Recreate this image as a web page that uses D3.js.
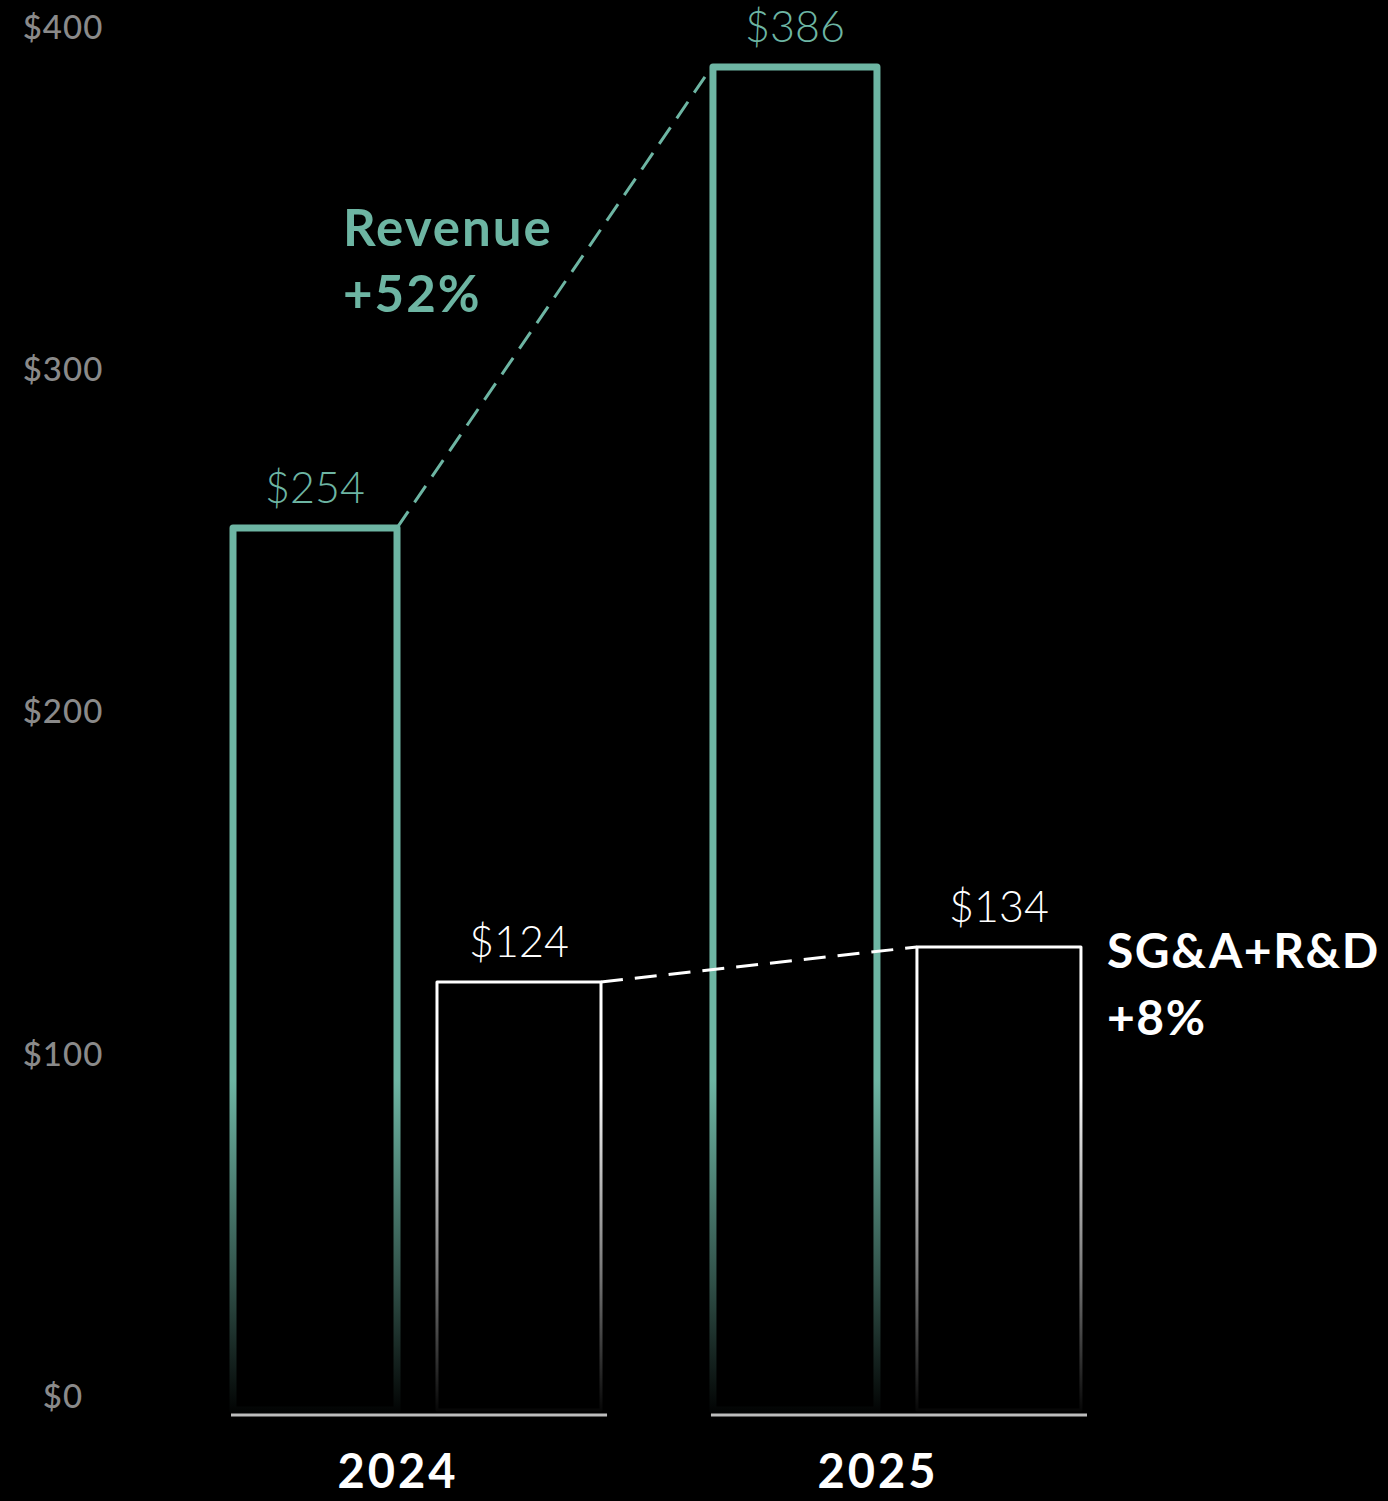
<!DOCTYPE html>
<html>
<head>
<meta charset="utf-8">
<script src="https://cdn.jsdelivr.net/npm/d3@7"></script>
<style>
  html, body { margin: 0; padding: 0; background: #000; }
  svg { display: block; }
  text { font-family: Lato, "Open Sans", sans-serif; }
</style>
</head>
<body>
<div id="chart"></div>
<script>
// data
var years = ["2024", "2025"];
var series = ["Revenue", "SG&A+R&D"];
var revenue = [254, 386];
var sgaRd = [124, 134];
var yTicks = [0, 100, 200, 300, 400];
var growthLabels = ["+52%", "+8%"];

const w = 1388;
const h = 1501;
const teal = "#6db5a3";
const white = "#ffffff";

const svg = d3.select("#chart").append("svg")
  .attr("width", w)
  .attr("height", h)
  .style("background", "#000");

// x scales: one band per year, one inner band per series
const x0 = d3.scaleBand().domain(years).range([233, 1083]).paddingInner(0.229).paddingOuter(0);
const x1 = d3.scaleBand().domain(series).range([0, 368]).paddingInner(0.196).paddingOuter(0);

// y scale for the bars, and one for the tick labels (they sit a bit above the baseline)
const y = d3.scaleLinear().domain([0, 400]).range([1415, 18]);
const yTick = d3.scaleLinear().domain([0, 400]).range([1396, 27]);

// gradients that fade the bar outlines at the bottom
const defs = svg.append("defs");
[["fadeTeal", teal], ["fadeWhite", white]].forEach(function(g) {
  const lg = defs.append("linearGradient")
    .attr("id", g[0])
    .attr("gradientUnits", "userSpaceOnUse")
    .attr("x1", 0).attr("x2", 0)
    .attr("y1", 1080).attr("y2", 1412);
  lg.append("stop").attr("offset", 0).attr("stop-color", g[1]).attr("stop-opacity", 1);
  lg.append("stop").attr("offset", 0.6).attr("stop-color", g[1]).attr("stop-opacity", 0.45);
  lg.append("stop").attr("offset", 1).attr("stop-color", g[1]).attr("stop-opacity", 0.02);
});

// y tick labels
svg.append("g").selectAll("text")
  .data(yTicks)
  .enter()
  .append("text")
  .attr("x", 63)
  .attr("y", d => yTick(d))
  .attr("dy", "0.36em")
  .attr("text-anchor", "middle")
  .attr("fill", "#8a8a8a")
  .attr("font-size", 33)
  .attr("font-weight", 500)
  .attr("letter-spacing", 1)
  .text(d => "$" + d);

// bars
var barData = [];
years.forEach(function(yr, i) {
  barData.push({year: yr, s: series[0], v: revenue[i], color: teal, grad: "fadeTeal", sw: 7});
  barData.push({year: yr, s: series[1], v: sgaRd[i], color: white, grad: "fadeWhite", sw: 3});
});

svg.append("g").selectAll("rect")
  .data(barData)
  .enter()
  .append("rect")
  .attr("x", d => x0(d.year) + x1(d.s))
  .attr("width", x1.bandwidth())
  .attr("y", d => y(d.v))
  .attr("height", d => y(0) - 5 - y(d.v))
  .attr("fill", "none")
  .attr("stroke", d => "url(#" + d.grad + ")")
  .attr("stroke-width", d => d.sw)
  .attr("stroke-linejoin", "round");

// baselines under each year group
svg.append("g").selectAll("line")
  .data(years)
  .enter()
  .append("line")
  .attr("x1", d => x0(d) - 2)
  .attr("x2", d => x0(d) + x0.bandwidth() + 4)
  .attr("y1", y(0)).attr("y2", y(0))
  .attr("stroke", "#bdbdbd")
  .attr("stroke-width", 3);

// value labels
svg.append("g").selectAll("text")
  .data(barData)
  .enter()
  .append("text")
  .attr("x", d => x0(d.year) + x1(d.s) + x1.bandwidth() / 2)
  .attr("y", d => y(d.v) - 25)
  .attr("text-anchor", "middle")
  .attr("fill", d => d.color)
  .attr("font-size", 43)
  .attr("font-weight", 300)
  .text(d => "$" + d.v);

// dashed connectors between years
const revLine = [
  [x0(years[0]) + x1(series[0]) + x1.bandwidth(), y(revenue[0])],
  [x0(years[1]) + x1(series[0]) - 8, y(revenue[1]) + 10]
];
const sgaLine = [
  [x0(years[0]) + x1(series[1]) + x1.bandwidth(), y(sgaRd[0])],
  [x0(years[1]) + x1(series[1]), y(sgaRd[1])]
];
svg.append("path")
  .attr("d", d3.line()(revLine))
  .attr("stroke", teal)
  .attr("stroke-width", 3)
  .attr("stroke-dasharray", "20,11")
  .attr("fill", "none");
svg.append("path")
  .attr("d", d3.line()(sgaLine))
  .attr("stroke", white)
  .attr("stroke-width", 3)
  .attr("stroke-dasharray", "22,12")
  .attr("fill", "none");

// growth annotations
const revNote = svg.append("text")
  .attr("x", 343).attr("y", 246)
  .attr("fill", teal)
  .attr("font-size", 51)
  .attr("font-weight", 700)
  .attr("letter-spacing", 2);
revNote.append("tspan").attr("x", 343).text(series[0]);
revNote.append("tspan").attr("x", 343).attr("dy", 66).text(growthLabels[0]);

const sgaNote = svg.append("text")
  .attr("x", 1107).attr("y", 968)
  .attr("fill", white)
  .attr("font-size", 48)
  .attr("font-weight", 700)
  .attr("letter-spacing", 1.5);
sgaNote.append("tspan").attr("x", 1107).text(series[1]);
sgaNote.append("tspan").attr("x", 1107).attr("dy", 67).text(growthLabels[1]);

// year labels
svg.append("g").selectAll("text")
  .data(years)
  .enter()
  .append("text")
  .attr("x", d => x0(d) + x0.bandwidth() / 2 - 20)
  .attr("y", 1488)
  .attr("text-anchor", "middle")
  .attr("fill", white)
  .attr("font-size", 47)
  .attr("font-weight", 700)
  .attr("letter-spacing", 3)
  .text(d => d);
</script>
</body>
</html>
